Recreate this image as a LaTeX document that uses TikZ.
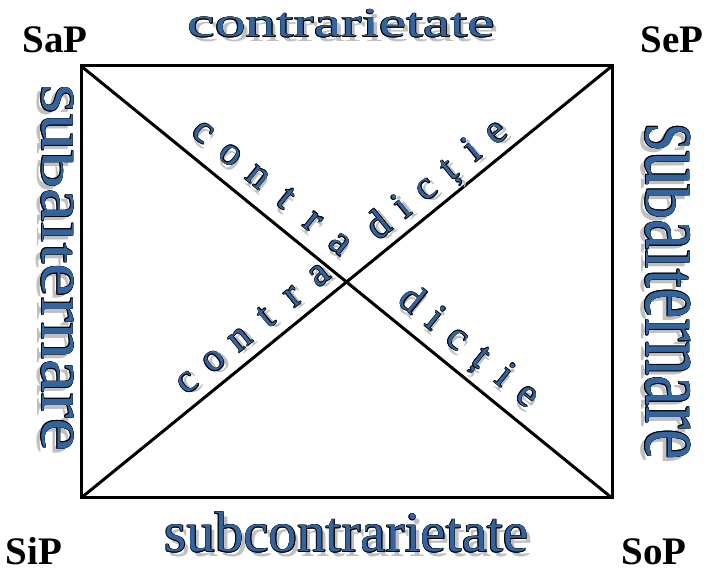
\documentclass[tikz,border=0pt]{standalone}
\usepackage{fontspec}
\setmainfont{Liberation Serif}
\usepackage{graphicx}
\usetikzlibrary{calc}

\definecolor{artblue}{RGB}{52,100,158}
\definecolor{artshade}{RGB}{192,192,192}

% letters squeezed to x-height (even letter height)
\newcommand\evh[1]{\scalebox{1}[0.67]{#1}}
\newcommand\evt[1]{\scalebox{1}[0.8]{#1}}
\newcommand\shoff{(4,-5)}
% shadow, black rim, blue fill
\newcommand\artnode[3]{%
  \node[shadetxt,#2] at \shoff {#3};
  \foreach \a in {0,45,...,315}
    \node[rimtxt,#2] at (\a:0.6) {#3};
  \node[arttxt,#2] (#1) at (0,0) {#3};
}

\tikzset{
  arttxt/.style={text=artblue,inner sep=0pt},
  rimtxt/.style={text=black,inner sep=0pt},
  shadetxt/.style={text=artshade,inner sep=0pt},
  cornerlbl/.style={font=\fontsize{39}{39}\selectfont\bfseries,inner sep=0pt,anchor=base},
  frame/.style={line width=3pt},
  arm/.style={anchor=base,font=\fontsize{40}{40}\selectfont}
}

\begin{document}
\begin{tikzpicture}[x=1pt,y=1pt]
  \useasboundingbox (0,0) rectangle (710,569);
  % corners of the square
  \coordinate (tl) at (81,503);
  \coordinate (tr) at (612,503);
  \coordinate (bl) at (81,71);
  \coordinate (br) at (612,71);
  \draw[frame] (tl) -- (tr) -- (br) -- (bl) -- cycle;
  \draw[frame] (tl) -- (br);
  \draw[frame] (bl) -- (tr);

  % corner labels
  \node[cornerlbl] (sap) at (55,516) {SaP};
  \node[cornerlbl] (sep) at (672,516) {SeP};
  \node[cornerlbl] (sip) at (34,4) {SiP};
  \node[cornerlbl] (sop) at (654,4) {SoP};

  % side texts
  \begin{scope}[shift={(341.5,532)}]
    \artnode{contr}{anchor=base,xscale=1.5,font=\fontsize{41}{41}\selectfont}{contrarietate}
  \end{scope}
  \begin{scope}[shift={(346.5,17)}]
    \artnode{subcontr}{anchor=base,font=\fontsize{57}{57}\selectfont}{subcontrarietate}
  \end{scope}
  \begin{scope}[shift={(42,301)},rotate=-90,transform shape]
    \artnode{subl}{anchor=base,xscale=1.12,font=\fontsize{67}{67}\selectfont}{su\evh{b}a\evh{l}\evt{t}ernare}
  \end{scope}
  \begin{scope}[shift={(646,277)},rotate=-90,transform shape]
    \artnode{subr}{anchor=base,xscale=0.73,font=\fontsize{94}{94}\selectfont}{su\evh{b}a\evh{l}\evt{t}ernare}
  \end{scope}

  % contradictie along the diagonals
  \renewcommand\shoff{(3,-4)}
  \begin{scope}[shift={(203,436)},rotate=-39.13,transform shape]
    \foreach \ch [count=\k from 0] in {c,o,n,t,r,a} {
      \begin{scope}[shift={(\k*35.3,-9.2)}]
        \artnode{ua\k}{arm}{\ch}
      \end{scope}
    }
  \end{scope}
  \begin{scope}[shift={(380.5,341)},rotate=39.13,transform shape]
    \foreach \ch [count=\k from 0] in {d,i,c,ț,i,e} {
      \begin{scope}[shift={(\k*30,-9.2)}]
        \artnode{ub\k}{arm}{\ch}
      \end{scope}
    }
  \end{scope}
  \begin{scope}[shift={(188,186)},rotate=39.13,transform shape]
    \foreach \ch [count=\k from 0] in {c,o,n,t,r,a} {
      \begin{scope}[shift={(\k*34,-9.2)}]
        \artnode{la\k}{arm}{\ch}
      \end{scope}
    }
  \end{scope}
  \begin{scope}[shift={(410.5,267)},rotate=-39.13,transform shape]
    \foreach \ch [count=\k from 0] in {d,i,c,ț,i,e} {
      \begin{scope}[shift={(\k*30,-9.2)}]
        \artnode{lb\k}{arm}{\ch}
      \end{scope}
    }
  \end{scope}
\end{tikzpicture}
\end{document}
